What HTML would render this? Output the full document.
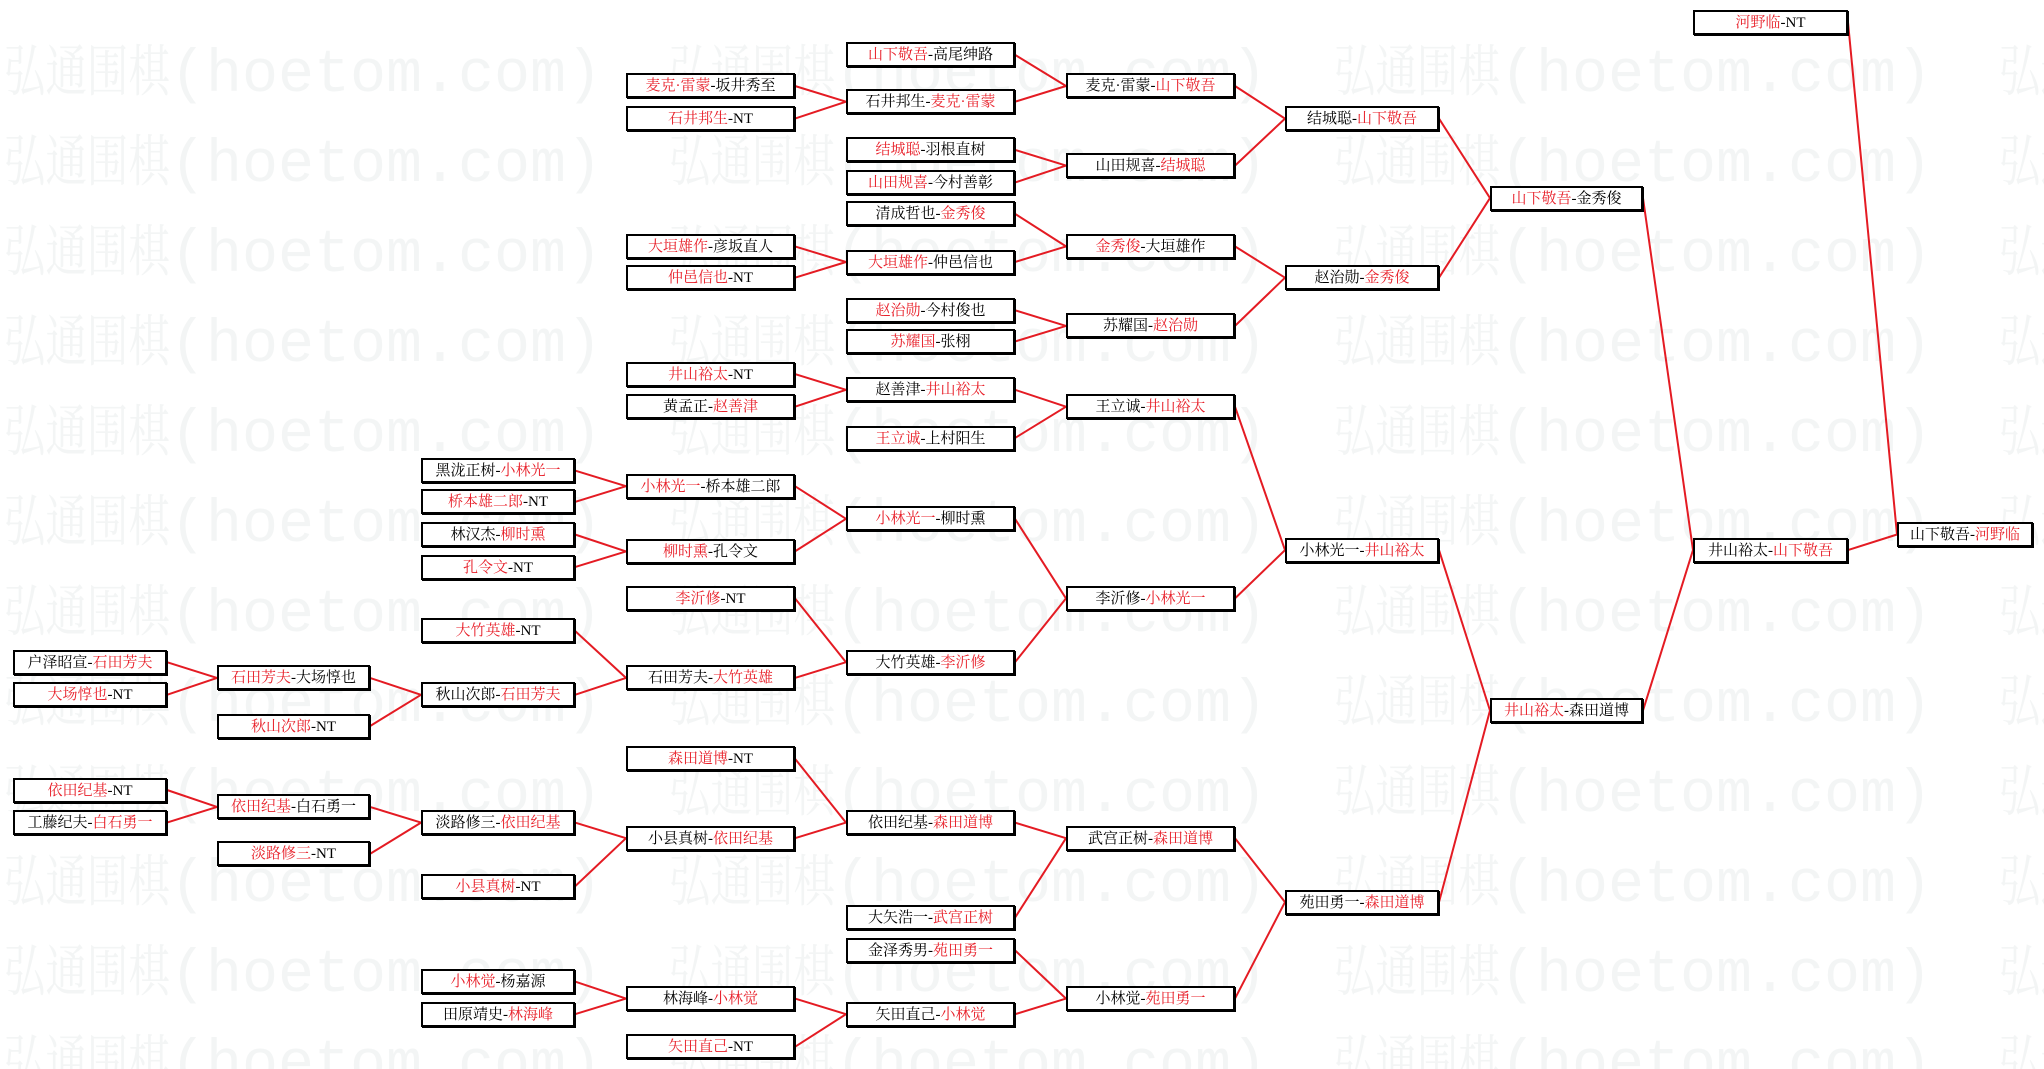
<!DOCTYPE html>
<html><head><meta charset="utf-8">
<style>
html,body{margin:0;padding:0;background:#fff;}
#wrap{position:relative;width:2044px;height:1069px;overflow:hidden;background:#fff;}
.wm{position:absolute;left:4px;white-space:nowrap;font-size:60px;line-height:56px;color:#f3f5f5;font-family:"Liberation Mono","Noto Serif CJK SC",serif;}
.wm s{text-decoration:none;display:inline-block;width:665px;}
.wm u{text-decoration:none;display:inline-block;font-size:56px;transform:scaleX(.74);transform-origin:0 0;margin-right:-58px;font-family:"Noto Serif CJK SC",serif;}
.b{position:absolute;height:25px;box-sizing:border-box;border:2px solid #000;box-shadow:1px 1px 0 #000;background:#fff;font-family:"Liberation Serif","Noto Serif CJK SC",serif;font-size:15px;line-height:22px;text-align:center;white-space:nowrap;color:#000;}
.b i{font-style:normal;color:#e8202a;}
.A{left:13px;width:154px}.B{left:217px;width:153px}.C{left:421px;width:154px}
.D{left:626px;width:169px}.E{left:846px;width:169px}.F{left:1066px;width:169px}
.G{left:1285px;width:154px}.H{left:1490px;width:153px}.I{left:1693px;width:155px}.J{left:1897px;width:136px}
svg{position:absolute;left:0;top:0;}
</style></head><body><div id="wrap">
<div class="wm" style="top:40px"><s><u>弘通围棋</u>(hoetom.com)</s><s><u>弘通围棋</u>(hoetom.com)</s><s><u>弘通围棋</u>(hoetom.com)</s><s><u>弘通围棋</u>(hoetom.com)</s></div>
<div class="wm" style="top:130px"><s><u>弘通围棋</u>(hoetom.com)</s><s><u>弘通围棋</u>(hoetom.com)</s><s><u>弘通围棋</u>(hoetom.com)</s><s><u>弘通围棋</u>(hoetom.com)</s></div>
<div class="wm" style="top:220px"><s><u>弘通围棋</u>(hoetom.com)</s><s><u>弘通围棋</u>(hoetom.com)</s><s><u>弘通围棋</u>(hoetom.com)</s><s><u>弘通围棋</u>(hoetom.com)</s></div>
<div class="wm" style="top:310px"><s><u>弘通围棋</u>(hoetom.com)</s><s><u>弘通围棋</u>(hoetom.com)</s><s><u>弘通围棋</u>(hoetom.com)</s><s><u>弘通围棋</u>(hoetom.com)</s></div>
<div class="wm" style="top:400px"><s><u>弘通围棋</u>(hoetom.com)</s><s><u>弘通围棋</u>(hoetom.com)</s><s><u>弘通围棋</u>(hoetom.com)</s><s><u>弘通围棋</u>(hoetom.com)</s></div>
<div class="wm" style="top:490px"><s><u>弘通围棋</u>(hoetom.com)</s><s><u>弘通围棋</u>(hoetom.com)</s><s><u>弘通围棋</u>(hoetom.com)</s><s><u>弘通围棋</u>(hoetom.com)</s></div>
<div class="wm" style="top:580px"><s><u>弘通围棋</u>(hoetom.com)</s><s><u>弘通围棋</u>(hoetom.com)</s><s><u>弘通围棋</u>(hoetom.com)</s><s><u>弘通围棋</u>(hoetom.com)</s></div>
<div class="wm" style="top:670px"><s><u>弘通围棋</u>(hoetom.com)</s><s><u>弘通围棋</u>(hoetom.com)</s><s><u>弘通围棋</u>(hoetom.com)</s><s><u>弘通围棋</u>(hoetom.com)</s></div>
<div class="wm" style="top:760px"><s><u>弘通围棋</u>(hoetom.com)</s><s><u>弘通围棋</u>(hoetom.com)</s><s><u>弘通围棋</u>(hoetom.com)</s><s><u>弘通围棋</u>(hoetom.com)</s></div>
<div class="wm" style="top:850px"><s><u>弘通围棋</u>(hoetom.com)</s><s><u>弘通围棋</u>(hoetom.com)</s><s><u>弘通围棋</u>(hoetom.com)</s><s><u>弘通围棋</u>(hoetom.com)</s></div>
<div class="wm" style="top:940px"><s><u>弘通围棋</u>(hoetom.com)</s><s><u>弘通围棋</u>(hoetom.com)</s><s><u>弘通围棋</u>(hoetom.com)</s><s><u>弘通围棋</u>(hoetom.com)</s></div>
<div class="wm" style="top:1030px"><s><u>弘通围棋</u>(hoetom.com)</s><s><u>弘通围棋</u>(hoetom.com)</s><s><u>弘通围棋</u>(hoetom.com)</s><s><u>弘通围棋</u>(hoetom.com)</s></div>

<svg width="2044" height="1069" stroke="#e41b23" stroke-width="2" fill="none">
<path d="M1015 54.8L1066 86M1015 101.7L1066 86M1015 149.9L1066 165.6M1015 182.5L1066 165.6M1015 213.8L1066 246.4M1015 262L1066 246.4M1015 310.3L1066 325.9M1015 341.5L1066 325.9M1015 389.8L1066 406.7M1015 438L1066 406.7M1015 518.8L1066 598.4M1015 662.2L1066 598.4M1015 822.6L1066 838.2M1015 917.7L1066 838.2M1015 950.3L1066 998.6M1015 1014.2L1066 998.6"/>
<path d="M795 86L846 101.7M795 118.6L846 101.7M795 246.4L846 262M795 277.7L846 262M795 374.1L846 389.8M795 406.7L846 389.8M795 486.2L846 518.8M795 551.4L846 518.8M795 598.4L846 662.2M795 677.9L846 662.2M795 758.7L846 822.6M795 838.2L846 822.6M795 998.6L846 1014.2M795 1046.8L846 1014.2"/>
<path d="M575 470.6L626 486.2M575 501.9L626 486.2M575 534.5L626 551.4M575 567.1L626 551.4M575 630.9L626 677.9M575 694.8L626 677.9M575 822.6L626 838.2M575 886.4L626 838.2M575 981.6L626 998.6M575 1014.2L626 998.6"/>
<path d="M370 677.9L421 694.8M370 726.1L421 694.8M370 806.9L421 822.6M370 853.9L421 822.6M167 662.2L217 677.9M167 694.8L217 677.9M167 790L217 806.9M167 822.6L217 806.9"/>
<path d="M1235 86L1285 118.6M1235 165.6L1285 118.6M1235 246.4L1285 277.7M1235 325.9L1285 277.7M1235 406.7L1285 550.1M1235 598.4L1285 550.1M1235 838.2L1285 902.1M1235 998.6L1285 902.1M1439 118.6L1490 198.1M1439 277.7L1490 198.1M1439 550.1L1490 710.5M1439 902.1L1490 710.5M1643 198.1L1693 550.1M1643 710.5L1693 550.1M1848 22.2L1897 534.5M1848 550.1L1897 534.5"/>
</svg>

<div class="b A" style="top:650px">户泽昭宣-<i>石田芳夫</i></div>
<div class="b A" style="top:682px"><i>大场惇也</i>-NT</div>
<div class="b A" style="top:778px"><i>依田纪基</i>-NT</div>
<div class="b A" style="top:810px">工藤纪夫-<i>白石勇一</i></div>
<div class="b B" style="top:665px"><i>石田芳夫</i>-大场惇也</div>
<div class="b B" style="top:714px"><i>秋山次郎</i>-NT</div>
<div class="b B" style="top:794px"><i>依田纪基</i>-白石勇一</div>
<div class="b B" style="top:841px"><i>淡路修三</i>-NT</div>
<div class="b C" style="top:458px">黑泷正树-<i>小林光一</i></div>
<div class="b C" style="top:489px"><i>桥本雄二郎</i>-NT</div>
<div class="b C" style="top:522px">林汉杰-<i>柳时熏</i></div>
<div class="b C" style="top:555px"><i>孔令文</i>-NT</div>
<div class="b C" style="top:618px"><i>大竹英雄</i>-NT</div>
<div class="b C" style="top:682px">秋山次郎-<i>石田芳夫</i></div>
<div class="b C" style="top:810px">淡路修三-<i>依田纪基</i></div>
<div class="b C" style="top:874px"><i>小县真树</i>-NT</div>
<div class="b C" style="top:969px"><i>小林觉</i>-杨嘉源</div>
<div class="b C" style="top:1002px">田原靖史-<i>林海峰</i></div>
<div class="b D" style="top:73px"><i>麦克·雷蒙</i>-坂井秀至</div>
<div class="b D" style="top:106px"><i>石井邦生</i>-NT</div>
<div class="b D" style="top:234px"><i>大垣雄作</i>-彦坂直人</div>
<div class="b D" style="top:265px"><i>仲邑信也</i>-NT</div>
<div class="b D" style="top:362px"><i>井山裕太</i>-NT</div>
<div class="b D" style="top:394px">黄孟正-<i>赵善津</i></div>
<div class="b D" style="top:474px"><i>小林光一</i>-桥本雄二郎</div>
<div class="b D" style="top:539px"><i>柳时熏</i>-孔令文</div>
<div class="b D" style="top:586px"><i>李沂修</i>-NT</div>
<div class="b D" style="top:665px">石田芳夫-<i>大竹英雄</i></div>
<div class="b D" style="top:746px"><i>森田道博</i>-NT</div>
<div class="b D" style="top:826px">小县真树-<i>依田纪基</i></div>
<div class="b D" style="top:986px">林海峰-<i>小林觉</i></div>
<div class="b D" style="top:1034px"><i>矢田直己</i>-NT</div>
<div class="b E" style="top:42px"><i>山下敬吾</i>-高尾绅路</div>
<div class="b E" style="top:89px">石井邦生-<i>麦克·雷蒙</i></div>
<div class="b E" style="top:137px"><i>结城聪</i>-羽根直树</div>
<div class="b E" style="top:170px"><i>山田规喜</i>-今村善彰</div>
<div class="b E" style="top:201px">清成哲也-<i>金秀俊</i></div>
<div class="b E" style="top:250px"><i>大垣雄作</i>-仲邑信也</div>
<div class="b E" style="top:298px"><i>赵治勋</i>-今村俊也</div>
<div class="b E" style="top:329px"><i>苏耀国</i>-张栩</div>
<div class="b E" style="top:377px">赵善津-<i>井山裕太</i></div>
<div class="b E" style="top:426px"><i>王立诚</i>-上村阳生</div>
<div class="b E" style="top:506px"><i>小林光一</i>-柳时熏</div>
<div class="b E" style="top:650px">大竹英雄-<i>李沂修</i></div>
<div class="b E" style="top:810px">依田纪基-<i>森田道博</i></div>
<div class="b E" style="top:905px">大矢浩一-<i>武宫正树</i></div>
<div class="b E" style="top:938px">金泽秀男-<i>苑田勇一</i></div>
<div class="b E" style="top:1002px">矢田直己-<i>小林觉</i></div>
<div class="b F" style="top:73px">麦克·雷蒙-<i>山下敬吾</i></div>
<div class="b F" style="top:153px">山田规喜-<i>结城聪</i></div>
<div class="b F" style="top:234px"><i>金秀俊</i>-大垣雄作</div>
<div class="b F" style="top:313px">苏耀国-<i>赵治勋</i></div>
<div class="b F" style="top:394px">王立诚-<i>井山裕太</i></div>
<div class="b F" style="top:586px">李沂修-<i>小林光一</i></div>
<div class="b F" style="top:826px">武宫正树-<i>森田道博</i></div>
<div class="b F" style="top:986px">小林觉-<i>苑田勇一</i></div>
<div class="b G" style="top:106px">结城聪-<i>山下敬吾</i></div>
<div class="b G" style="top:265px">赵治勋-<i>金秀俊</i></div>
<div class="b G" style="top:538px">小林光一-<i>井山裕太</i></div>
<div class="b G" style="top:890px">苑田勇一-<i>森田道博</i></div>
<div class="b H" style="top:186px"><i>山下敬吾</i>-金秀俊</div>
<div class="b H" style="top:698px"><i>井山裕太</i>-森田道博</div>
<div class="b I" style="top:10px"><i>河野临</i>-NT</div>
<div class="b I" style="top:538px">井山裕太-<i>山下敬吾</i></div>
<div class="b J" style="top:522px">山下敬吾-<i>河野临</i></div>
</div></body></html>
